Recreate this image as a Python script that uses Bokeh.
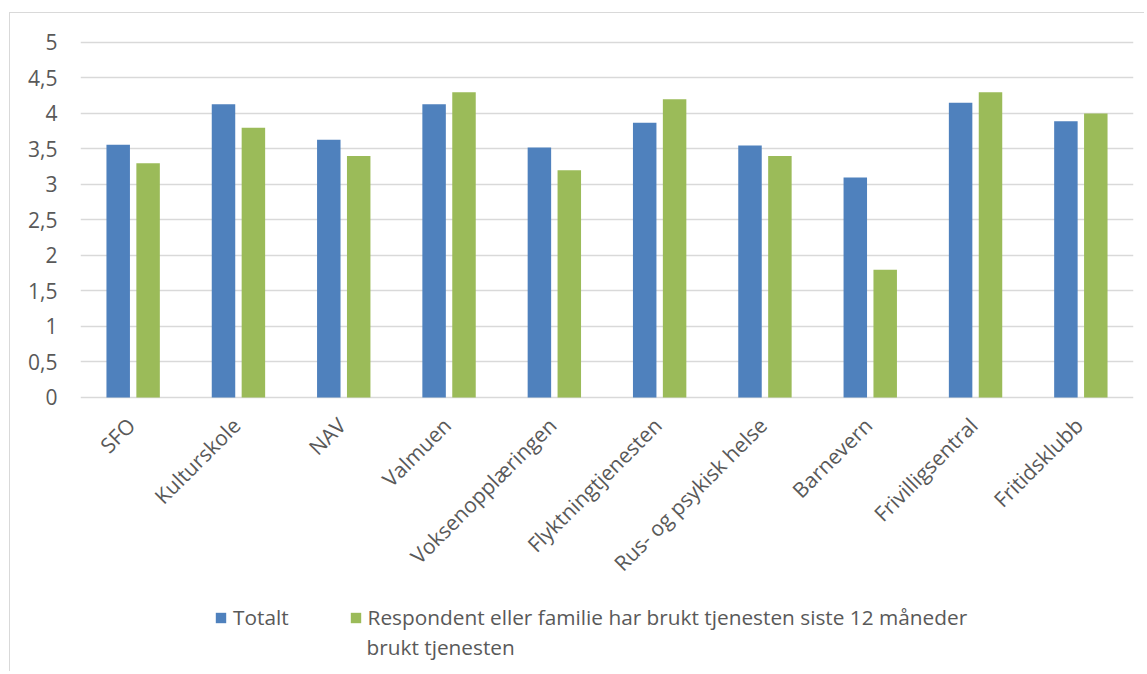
import math
from bokeh.plotting import figure
from bokeh.models import (ColumnDataSource, Range1d, FixedTicker, LabelSet,
                          Legend, LegendItem, Label, InlineStyleSheet)
from bokeh.core.properties import value
from bokeh.transform import dodge
from bokeh.embed import file_html
from bokeh.resources import INLINE

# ---------------- data ----------------
categories = ["SFO", "Kulturskole", "NAV", "Valmuen", "Voksenopplæringen",
              "Flyktningtjenesten", "Rus- og psykisk helse", "Barnevern",
              "Frivilligsentral", "Fritidsklubb"]
totalt = [3.56, 4.13, 3.63, 4.13, 3.52, 3.87, 3.55, 3.10, 4.15, 3.89]
brukt = [3.30, 3.80, 3.40, 4.30, 3.20, 4.20, 3.40, 1.80, 4.30, 4.00]
series_names = ["Totalt", "Respondent eller familie har brukt tjenesten siste 12 måneder"]
legend_wrap = "brukt tjenesten"
y_ticks = [0, 0.5, 1, 1.5, 2, 2.5, 3, 3.5, 4, 4.5, 5]
y_tick_labels = ["0", "0,5", "1", "1,5", "2", "2,5", "3", "3,5", "4", "4,5", "5"]

# ---------------- style ----------------
BLUE = "#4F81BD"
GREEN = "#9BBB59"
TXT = "#595959"
GRID = "#D9D9D9"
FONT = "Open Sans"

n = len(categories)
pos = [i + 0.5 for i in range(n)]  # category slot centres
src = ColumnDataSource(dict(cat=categories, pos=pos, totalt=totalt, brukt=brukt))

# frame extends below the zero line so that labels/legend can sit inside it
p = figure(width=1135, height=659,
           x_range=Range1d(0, n), y_range=Range1d(-3.845, 5.028),
           output_backend="svg", toolbar_location=None,
           min_border_left=70, min_border_right=12, min_border_top=27, min_border_bottom=2)
p.outline_line_color = None
p.background_fill_color = "white"
p.border_fill_color = "white"
p.stylesheets = [InlineStyleSheet(css=":host { margin: 12px 0 0 9px; border-left: 1px solid #D9D9D9; border-top: 1px solid #D9D9D9; }")]

r1 = p.vbar(x=dodge("pos", -0.142), top="totalt", width=0.223,
            source=src, fill_color=BLUE, line_color=None)
r2 = p.vbar(x=dodge("pos", 0.142), top="brukt", width=0.223,
            source=src, fill_color=GREEN, line_color=None)

p.xaxis.visible = False
p.xgrid.grid_line_color = None

# category labels, rotated 45 degrees under each group
p.add_layout(LabelSet(x="pos", y=0, text="cat", source=src,
                      angle=math.pi / 4, text_align="right", text_baseline="middle",
                      x_offset=-2, y_offset=-24,
                      text_font=value(FONT), text_font_size=value("21px"),
                      text_color=value(TXT)))

yax = p.yaxis[0]
yax.ticker = FixedTicker(ticks=y_ticks)
yax.major_label_overrides = {t: l for t, l in zip(y_ticks, y_tick_labels)}
yax.axis_line_color = None
yax.major_tick_line_color = None
yax.minor_tick_line_color = None
yax.major_tick_out = 0
yax.major_label_standoff = 23
yax.major_label_text_font = FONT
yax.major_label_text_font_size = "21px"
yax.major_label_text_color = TXT

p.ygrid.ticker = FixedTicker(ticks=y_ticks)
p.ygrid.grid_line_color = GRID
p.ygrid.grid_line_width = 1.5

legend = Legend(items=[LegendItem(label=series_names[0], renderers=[r1]),
                       LegendItem(label=series_names[1], renderers=[r2])],
                orientation="horizontal", location=(134, 39),
                glyph_width=13, glyph_height=13, label_standoff=6, spacing=60,
                padding=0, margin=0, border_line_color=None, background_fill_alpha=0,
                label_text_font=FONT, label_text_font_size="20.8px", label_text_color=TXT)
p.add_layout(legend, "center")

p.add_layout(Label(x=286, y=24, x_units="screen", y_units="screen", text=legend_wrap,
                   text_font=FONT, text_font_size="20.8px", text_color=TXT,
                   text_baseline="middle"))

open("out.html", "w").write(file_html(p, INLINE))
